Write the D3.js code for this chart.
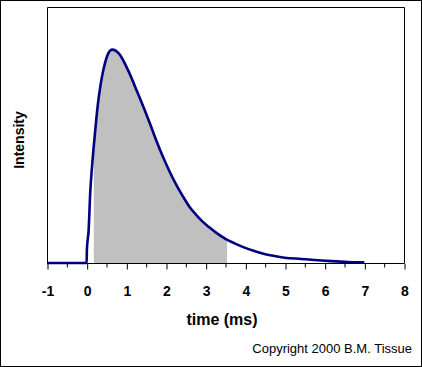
<!DOCTYPE html>
<html>
<head>
<meta charset="utf-8">
<script src="https://cdn.jsdelivr.net/npm/d3@7"></script>
<style>
  html, body { margin: 0; padding: 0; background: #fff; }
  svg { display: block; }
  text { font-family: "Liberation Sans", Arial, sans-serif; fill: #000; }
</style>
</head>
<body>
<div id="chart"></div>
<script>
// time axis ticks (ms)
const tickValues = [-1, 0, 1, 2, 3, 4, 5, 6, 7, 8];
const minorTicks = [-0.5, 0.5, 1.5, 2.5, 3.5, 4.5, 5.5, 6.5, 7.5];

// decay curve: time (ms) and relative intensity
const times = [-1, 0, 0.005, 0.05, 0.09, 0.13, 0.17, 0.22, 0.28, 0.35, 0.43, 0.51, 0.64, 0.83,
  1.04, 1.28, 1.59, 1.75, 1.92, 2.09, 2.26, 2.43, 2.59, 2.76, 2.93, 3.10, 3.27, 3.52, 3.73,
  3.98, 4.23, 4.48, 4.74, 4.99, 5.41, 5.74, 6.16, 6.58, 7.0];
const intensity = [0, 0, 0.06, 0.155, 0.33, 0.44, 0.53, 0.63, 0.74, 0.835, 0.913, 0.967, 1.0, 0.978,
  0.905, 0.80, 0.656, 0.577, 0.499, 0.429, 0.366, 0.311, 0.264, 0.226, 0.193, 0.166, 0.141, 0.111, 0.092,
  0.072, 0.056, 0.042, 0.033, 0.025, 0.019, 0.014, 0.009, 0.005, 0.003];

// detection gate (shaded window), ms
const gateStart = 0.18;
const gateEnd = 3.54;

const width = 422, height = 367;
const plot = { left: 47, top: 7, right: 404, bottom: 263 };

const svg = d3.select('#chart').append('svg')
  .attr('width', width).attr('height', height);

// outer frame
svg.append('rect')
  .attr('x', 0.5).attr('y', 0.5)
  .attr('width', width - 1).attr('height', height - 1)
  .attr('fill', '#fff').attr('stroke', '#000');

const x = d3.scaleLinear().domain([-1, 8]).range([plot.left, plot.right]);
const y = d3.scaleLinear().domain([0, 1.2]).range([plot.bottom, plot.top]);

const points = times.map((t, i) => ({ t: t, v: intensity[i] }));

// clip for the gate window
svg.append('clipPath').attr('id', 'gate')
  .append('rect')
  .attr('x', x(gateStart)).attr('y', plot.top)
  .attr('width', x(gateEnd) - x(gateStart))
  .attr('height', plot.bottom - plot.top);

const area = d3.area()
  .x(d => x(d.t)).y0(y(0)).y1(d => y(d.v))
  .curve(d3.curveMonotoneX);

svg.append('path')
  .datum(points)
  .attr('clip-path', 'url(#gate)')
  .attr('fill', '#c0c0c0')
  .attr('d', area);

// plot frame (left, top, right)
svg.append('path')
  .attr('d', `M${plot.left + 0.5},${plot.bottom}V${plot.top + 0.5}H${plot.right + 0.5}V${plot.bottom}`)
  .attr('fill', 'none').attr('stroke', '#000');

const line = d3.line()
  .x(d => x(d.t)).y(d => y(d.v))
  .curve(d3.curveMonotoneX);

svg.append('path')
  .datum(points)
  .attr('fill', 'none')
  .attr('stroke', '#000080')
  .attr('stroke-width', 2.6)
  .attr('d', line);

// x axis
const xAxis = svg.append('g')
  .attr('transform', `translate(0.5,${plot.bottom + 0.5})`)
  .call(d3.axisBottom(x).tickValues(tickValues).tickSize(6).tickPadding(17).tickFormat(d3.format('d')));
xAxis.select('.domain').attr('stroke', '#000').attr('d', `M${plot.left},0H${plot.right}`);
xAxis.selectAll('.tick line').attr('stroke', '#000');
xAxis.selectAll('.tick text')
  .attr('font-family', '"Liberation Sans", Arial, sans-serif')
  .attr('font-size', 14).attr('font-weight', 'bold').attr('fill', '#000')
  .text(d => d < 0 ? '-' + Math.abs(d) : d);

xAxis.selectAll('.minor')
  .data(minorTicks)
  .enter().append('line')
  .attr('class', 'minor')
  .attr('x1', d => x(d)).attr('x2', d => x(d))
  .attr('y1', 0).attr('y2', 4)
  .attr('stroke', '#000');

// axis titles
svg.append('text')
  .attr('x', 222).attr('y', 325)
  .attr('text-anchor', 'middle')
  .attr('font-size', 16).attr('font-weight', 'bold')
  .text('time (ms)');

svg.append('text')
  .attr('transform', 'translate(24,140) rotate(-90)')
  .attr('text-anchor', 'middle')
  .attr('font-size', 14).attr('font-weight', 'bold')
  .text('Intensity');

svg.append('text')
  .attr('x', 412).attr('y', 353)
  .attr('text-anchor', 'end')
  .attr('font-size', 13)
  .text('Copyright 2000 B.M. Tissue');
</script>
</body>
</html>
